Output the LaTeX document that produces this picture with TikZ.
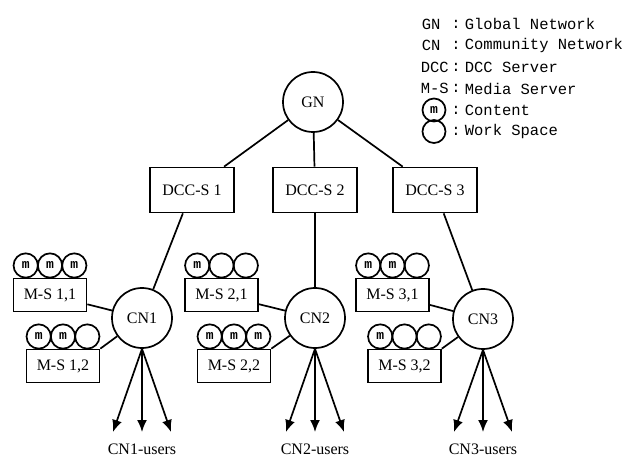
\documentclass[tikz,border=0pt]{standalone}
\usepackage{fontspec}
\setmainfont{Liberation Serif}
\newfontfamily\legendfont{Liberation Mono}
\usetikzlibrary{arrows.meta}
\newcommand\cm{\raisebox{-1.5pt}{\legendfont\bfseries\fontsize{13}{13}\selectfont m}}
\newcommand\wsrow[4]{%
  \node[ws] (#1a) at ([xshift=-24.3pt,yshift=12.15pt]#1.north) {#2};
  \node[ws] (#1b) at ([yshift=12.15pt]#1.north) {#3};
  \node[ws] (#1c) at ([xshift=24.3pt,yshift=12.15pt]#1.north) {#4};}
\begin{document}
\begin{tikzpicture}[x=1pt,y=-1pt,line width=1.7pt,
  lbl/.style={font=\fontsize{16}{18}\selectfont},
  srv/.style={draw,lbl,minimum width=84pt,minimum height=45pt,inner sep=0pt},
  ms/.style={draw,lbl,minimum width=73pt,minimum height=33pt,inner sep=0pt},
  net/.style={draw,circle,lbl,minimum size=60pt,inner sep=0pt},
  ws/.style={draw,circle,minimum size=24.3pt,inner sep=0pt},
  leg/.style={font=\legendfont\fontsize{15.5}{17}\selectfont,inner sep=0pt},
  usr/.style={-{Latex[length=12pt,width=10pt]}}]
\useasboundingbox (0,0) rectangle (627,457);

% legend
\node[leg,anchor=west] (lg1) at (421,24) {GN};
\node[leg,anchor=west] (lg2) at (421,45.5) {CN};
\node[leg,anchor=west] (lg3) at (420,67) {DCC};
\node[leg,anchor=west] (lg4) at (420,88.5) {M-S};
\node[draw,circle,minimum size=23pt,inner sep=0pt] (lg5) at (434,110) {\cm};
\node[draw,circle,minimum size=23pt,inner sep=0pt] (lg6) at (434,131.5) {};
\foreach \i/\y/\t in {1/24/Global Network,2/45.5/Community Network,3/67/DCC Server,4/88.5/Media Server,5/110/Content,6/131.5/Work Space}{
  \node[leg] (c\i) at (456,\y) {:};
  \node[leg,anchor=west] (d\i) at (464,\y) {\t};
}

% main tree
\node[net] (GN) at (313,102) {GN};
\node[srv] (D1) at (192,190) {DCC-S 1};
\node[srv] (D2) at (315,190) {DCC-S 2};
\node[srv] (D3) at (435,190) {DCC-S 3};
\node[net] (CN1) at (142,318) {CN1};
\node[net] (CN2) at (315,318) {CN2};
\node[net] (CN3) at (483,319) {CN3};

\node[ms] (MS11) at (50,295) {M-S 1,1};
\node[ms] (MS12) at (63,366) {M-S 1,2};
\node[ms] (MS21) at (221.5,295) {M-S 2,1};
\node[ms] (MS22) at (234,366) {M-S 2,2};
\node[ms] (MS31) at (392.5,295) {M-S 3,1};
\node[ms] (MS32) at (404.5,366) {M-S 3,2};

\wsrow{MS11}{\cm}{\cm}{\cm}
\wsrow{MS12}{\cm}{\cm}{}
\wsrow{MS21}{\cm}{}{}
\wsrow{MS22}{\cm}{\cm}{\cm}
\wsrow{MS31}{\cm}{\cm}{}
\wsrow{MS32}{\cm}{}{}

\draw (GN) -- (D1);
\draw (GN) -- (D2);
\draw (GN) -- (D3);
\draw (D1) -- (CN1);
\draw (D2) -- (CN2);
\draw (D3) -- (CN3);
\draw (MS11) -- (CN1);
\draw (MS12.north east) -- (CN1);
\draw (MS21) -- (CN2);
\draw (MS22.north east) -- (CN2);
\draw (MS31) -- (CN3);
\draw (MS32.north east) -- (CN3);

\foreach \n/\x in {1/142,2/315,3/483}{
  \coordinate (u\n a) at (\x-29,432);
  \coordinate (u\n b) at (\x,432);
  \coordinate (u\n c) at (\x+29,432);
  \draw[usr] (CN\n.south) -- (u\n a);
  \draw[usr] (CN\n.south) -- (u\n b);
  \draw[usr] (CN\n.south) -- (u\n c);
  \node[lbl,inner sep=0pt] (lu\n) at (\x,449) {CN\n-users};
}
\end{tikzpicture}
\end{document}
